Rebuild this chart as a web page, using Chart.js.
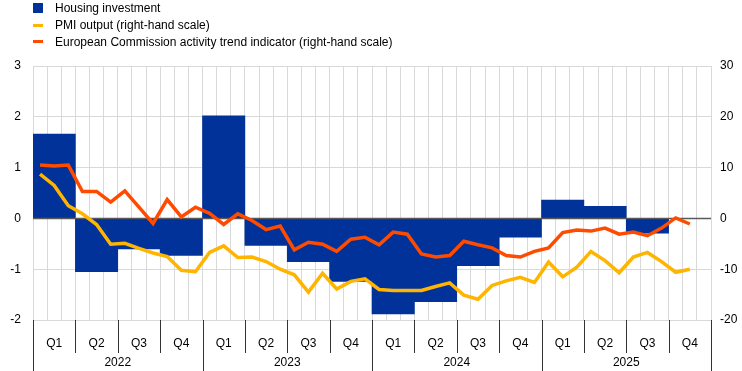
<!DOCTYPE html>
<html>
<head>
<meta charset="utf-8">
<script src="https://cdn.jsdelivr.net/npm/chart.js@4/dist/chart.umd.min.js"></script>
<style>
  body { margin: 0; background: #fff; font-family: "Liberation Sans", Arial, sans-serif; }
  #wrap { position: relative; width: 742px; height: 371px; }
  #legend { position: absolute; left: 33px; top: 0; font-size: 12px; color: #000; }
  .lg-row { display: flex; align-items: center; height: 16.7px; }
  .lg-mark { width: 10px; margin-right: 12px; }
</style>
</head>
<body>
<div id="wrap">
  <canvas id="chart"></canvas>
  <div id="legend"></div>
</div>
<script>
// quarterly housing investment (left-hand scale)
const quarters = ['Q1', 'Q2', 'Q3', 'Q4', 'Q1', 'Q2', 'Q3', 'Q4', 'Q1', 'Q2', 'Q3', 'Q4', 'Q1', 'Q2', 'Q3', 'Q4'];
const years = ['2022', '2023', '2024', '2025'];
const housingInvestment = [1.66, -1.05, -0.60, -0.73, 2.02, -0.53, -0.85, -1.24, -1.88, -1.64, -0.93, -0.37, 0.36, 0.24, -0.29, null];

// monthly survey indicators (right-hand scale)
const months = [
    '2022-01', '2022-02', '2022-03', '2022-04', '2022-05', '2022-06', '2022-07', '2022-08', '2022-09', '2022-10', '2022-11', '2022-12',
    '2023-01', '2023-02', '2023-03', '2023-04', '2023-05', '2023-06', '2023-07', '2023-08', '2023-09', '2023-10', '2023-11', '2023-12',
    '2024-01', '2024-02', '2024-03', '2024-04', '2024-05', '2024-06', '2024-07', '2024-08', '2024-09', '2024-10', '2024-11', '2024-12',
    '2025-01', '2025-02', '2025-03', '2025-04', '2025-05', '2025-06', '2025-07', '2025-08', '2025-09', '2025-10', '2025-11', '2025-12',
];
const pmiOutput = [
    8.7, 6.5, 2.5, 0.9, -1.2, -5.1, -4.9, -5.9, -6.8, -7.5, -10.2, -10.5,
    -6.7, -5.4, -7.7, -7.6, -8.5, -10.0, -11.1, -14.5, -10.8, -13.9, -12.4, -11.9,
    -14.0, -14.2, -14.2, -14.2, -13.4, -12.7, -15.1, -15.9, -13.2, -12.3, -11.6, -12.6,
    -8.6, -11.5, -9.6, -6.5, -8.3, -10.7, -7.6, -6.7, -8.5, -10.6, -10.0,
];
const ecActivityTrend = [
    10.5, 10.3, 10.5, 5.3, 5.3, 3.2, 5.4, 2.2, -1.0, 3.7, 0.3, 2.2,
    1.0, -1.2, 0.9, -0.4, -2.2, -1.5, -6.2, -4.7, -5.1, -6.5, -4.1, -3.7,
    -5.2, -2.7, -3.1, -7.0, -7.6, -7.3, -4.5, -5.2, -5.8, -7.3, -7.6, -6.5,
    -5.8, -2.8, -2.3, -2.5, -1.9, -3.1, -2.7, -3.4, -1.9, 0.1, -1.1,
];

const BLUE = '#003299';
const YELLOW = '#ffb400';
const ORANGE = '#ff4b00';
const GRID = '#d9d9d9';

Chart.defaults.font.family = '"Liberation Sans", Arial, sans-serif';
Chart.defaults.font.size = 12;
Chart.defaults.color = '#000';

function buildLegend() {
    const items = [
        { label: 'Housing investment', color: BLUE, h: 10 },
        { label: 'PMI output (right-hand scale)', color: YELLOW, h: 3 },
        { label: 'European Commission activity trend indicator (right-hand scale)', color: ORANGE, h: 3 },
    ];
    document.getElementById('legend').innerHTML = items.map(i => `
    <div class="lg-row"><span class="lg-mark" style="height:${i.h}px;background:${i.color};"></span>${i.label}</div>
  `).join('');
}

// zero line sits on top of the bars but under the lines
const zeroLine = {
    id: 'zeroLine',
    afterDatasetDraw(chart, args) {
        if (args.meta.type !== 'bar') return;
        const { ctx, chartArea } = chart;
        const y = Math.round(chart.scales.y.getPixelForValue(0)) + 0.5;
        ctx.save();
        ctx.strokeStyle = '#595959';
        ctx.lineWidth = 1.5;
        ctx.beginPath();
        ctx.moveTo(chartArea.left, y);
        ctx.lineTo(chartArea.right, y);
        ctx.stroke();
        ctx.restore();
    },
};

// quarter / year separators under the plot
const separators = {
    id: 'separators',
    afterDraw(chart) {
        const { ctx, chartArea } = chart;
        const xq = chart.scales.xq;
        const xy = chart.scales.xy;
        const w = (xq.right - xq.left) / quarters.length;
        ctx.save();
        ctx.strokeStyle = '#333';
        ctx.lineWidth = 1;
        for (let i = 0; i <= quarters.length; i++) {
            const x = Math.round(xq.left + i * w) + 0.5;
            const bottom = i % 4 === 0 ? xy.bottom : xq.bottom;
            ctx.beginPath();
            ctx.moveTo(x, chartArea.bottom);
            ctx.lineTo(x, bottom);
            ctx.stroke();
        }
        ctx.restore();
    },
};

function renderChart() {
    const ctx = document.getElementById('chart');
    new Chart(ctx, {
        type: 'bar',
        data: {
            datasets: [
                {
                    type: 'line', label: 'European Commission activity trend indicator (right-hand scale)',
                    data: ecActivityTrend, xAxisID: 'x', yAxisID: 'y2',
                    borderColor: ORANGE, borderWidth: 3.5, pointRadius: 0, tension: 0, order: 1,
                },
                {
                    type: 'line', label: 'PMI output (right-hand scale)',
                    data: pmiOutput, xAxisID: 'x', yAxisID: 'y2',
                    borderColor: YELLOW, borderWidth: 3.5, pointRadius: 0, tension: 0, order: 2,
                },
                {
                    type: 'bar', label: 'Housing investment',
                    data: housingInvestment, xAxisID: 'xq', yAxisID: 'y',
                    backgroundColor: BLUE, barPercentage: 1, categoryPercentage: 1, grouped: false, order: 3,
                },
            ],
        },
        options: {
            responsive: true,
            maintainAspectRatio: false,
            animation: false,
            layout: { padding: { top: 66, left: 0, right: 0, bottom: 0 } },
            plugins: { legend: { display: false }, tooltip: { enabled: false } },
            scales: {
                x: {
                    type: 'category', labels: months, position: 'bottom', weight: 0, offset: true,
                    grid: { offset: true, color: GRID, drawTicks: false },
                    border: { display: false },
                    ticks: { display: false, autoSkip: false },
                    afterFit: s => { s.height = 0; },
                },
                xq: {
                    type: 'category', labels: quarters, position: 'bottom', weight: 1, offset: true,
                    grid: { display: false, drawTicks: false },
                    border: { display: false },
                    ticks: { autoSkip: false, maxRotation: 0, padding: 16 },
                    afterFit: s => { s.height = 33; },
                },
                xy: {
                    type: 'category', labels: years, position: 'bottom', weight: 2, offset: true,
                    grid: { display: false, drawTicks: false },
                    border: { display: false },
                    ticks: { autoSkip: false, maxRotation: 0, padding: 2 },
                    afterFit: s => { s.height = 18; },
                },
                y: {
                    position: 'left', min: -2, max: 3,
                    grid: { color: GRID, drawTicks: false },
                    border: { display: false },
                    ticks: { stepSize: 1, padding: 12 },
                    afterFit: s => { s.width = 33; },
                },
                y2: {
                    position: 'right', min: -20, max: 30,
                    grid: { display: false, drawTicks: false },
                    border: { display: false },
                    ticks: { stepSize: 10, padding: 9 },
                    afterFit: s => { s.width = 31; },
                },
            },
        },
        plugins: [zeroLine, separators],
    });
}

buildLegend();
renderChart();
</script>
</body>
</html>
